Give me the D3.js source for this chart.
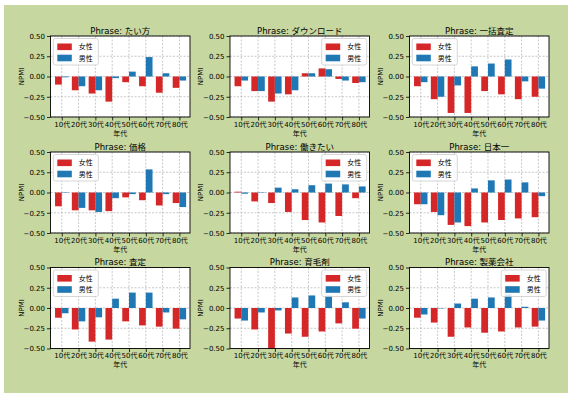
<!DOCTYPE html>
<html><head><meta charset="utf-8">
<script src="https://cdn.jsdelivr.net/npm/d3@7"></script>
<style>
body{margin:0;background:#fff}
svg{display:block}
text{font-family:"DejaVu Sans","Noto Sans CJK JP",sans-serif;fill:#000}
</style>
</head><body>
<svg id="chart" width="568" height="393"></svg>
<script>
// Age groups along the x axis
const categories = ['10代','20代','30代','40代','50代','60代','70代','80代'];
// One panel per phrase
const phrases = ['たい方','ダウンロード','一括査定','価格','働きたい','日本一','査定','育毛剤','製薬会社'];
const seriesNames = ['女性','男性'];
const yTicks = [-0.5, -0.25, 0, 0.25, 0.5];

// NPMI per age group for women, one row per phrase
const femaleNPMI = [
  [-0.10, -0.17, -0.21, -0.31, -0.07, -0.12, -0.20, -0.14],
  [-0.12, -0.18, -0.31, -0.22,  0.04,  0.10, -0.03, -0.08],
  [-0.12, -0.28, -0.45, -0.45, -0.18, -0.22, -0.28, -0.25],
  [-0.17, -0.22, -0.22, -0.23, -0.06, -0.095,-0.16, -0.13],
  [ 0.01, -0.11, -0.13, -0.24, -0.34, -0.37, -0.29, -0.07],
  [-0.145,-0.24, -0.40, -0.415,-0.37, -0.34, -0.32, -0.305],
  [-0.12, -0.265,-0.415,-0.39, -0.165,-0.215,-0.23, -0.255],
  [-0.13, -0.265,-0.51, -0.315,-0.355,-0.29, -0.19, -0.255],
  [-0.12, -0.18, -0.355,-0.24, -0.305,-0.29, -0.24, -0.23]
];
// NPMI per age group for men, one row per phrase
const maleNPMI = [
  [-0.01, -0.12, -0.17, -0.02,  0.06,  0.24,  0.04, -0.05],
  [-0.05, -0.18, -0.21, -0.17,  0.04,  0.09, -0.05, -0.07],
  [-0.07, -0.25, -0.11,  0.125, 0.16,  0.21, -0.06, -0.15],
  [-0.005,-0.19, -0.24, -0.07, -0.02,  0.285,-0.02, -0.18],
  [-0.015,-0.005, 0.06,  0.04,  0.09,  0.11,  0.10,  0.075],
  [-0.145,-0.28, -0.37,  0.05,  0.15,  0.16,  0.125,-0.045],
  [-0.065,-0.165,-0.115, 0.115, 0.19,  0.19, -0.055,-0.14],
  [-0.155,-0.055,-0.03,  0.13,  0.155, 0.155, 0.07, -0.13],
  [-0.08, -0.005, 0.055, 0.115, 0.13,  0.17,  0.015,-0.155]
];
// Where each panel's legend sits
const legendCorner = ['left','right','left','left','right','left','left','right','right'];

const colors = ['#d62728', '#1f77b4'];
const colLeft = [50.5, 230, 409.5];
const rowTop = [36, 152, 267.5];
const plotW = 139.5, plotH = 81;
const barW = 0.4;

const svg = d3.select('#chart');
svg.append('rect').attr('x', 4).attr('y', 5).attr('width', 564).attr('height', 388)
  .attr('fill', '#c6d7a0');

phrases.forEach((phrase, p) => {
  const left = colLeft[p % 3], top = rowTop[Math.floor(p / 3)];
  const x = d3.scaleLinear().domain([-0.67, 7.63]).range([left, left + plotW]);
  const y = d3.scaleLinear().domain([-0.5, 0.5]).range([top + plotH, top]);
  const g = svg.append('g');
  const clipId = 'clip' + p;
  g.append('clipPath').attr('id', clipId).append('rect')
    .attr('x', left).attr('y', top).attr('width', plotW).attr('height', plotH);

  g.append('rect').attr('x', left).attr('y', top).attr('width', plotW).attr('height', plotH)
    .attr('fill', '#fff');

  // grid
  const grid = g.append('g').attr('stroke', '#b0b0b0').attr('stroke-width', 0.7)
    .attr('stroke-dasharray', '2,1.5');
  grid.selectAll('.gx').data(d3.range(categories.length)).join('line')
    .attr('x1', d => x(d)).attr('x2', d => x(d)).attr('y1', top).attr('y2', top + plotH);
  grid.selectAll('.gy').data(yTicks).join('line')
    .attr('x1', left).attr('x2', left + plotW).attr('y1', d => y(d)).attr('y2', d => y(d));

  // bars
  const bars = g.append('g').attr('clip-path', `url(#${clipId})`);
  [femaleNPMI[p], maleNPMI[p]].forEach((vals, s) => {
    bars.selectAll('.b' + s).data(vals).join('rect')
      .attr('x', (d, i) => x(i - barW + s * barW))
      .attr('width', x(barW) - x(0))
      .attr('y', d => y(Math.max(0, d)))
      .attr('height', d => Math.abs(y(d) - y(0)))
      .attr('fill', colors[s]);
  });

  // axes
  const ya = g.append('g').attr('transform', `translate(${left},0)`)
    .call(d3.axisLeft(y).tickValues(yTicks).tickFormat(d3.format('.2f')).tickSize(3.5).tickPadding(2));
  const xa = g.append('g').attr('transform', `translate(0,${top + plotH})`)
    .call(d3.axisBottom(x).tickValues(d3.range(categories.length)).tickFormat(i => categories[i]).tickSize(3.5).tickPadding(1.5));
  [ya, xa].forEach(a => {
    a.select('.domain').remove();
    a.selectAll('text').attr('font-size', 7).attr('fill', '#000')
      .style('font-family', '"DejaVu Sans","Noto Sans CJK JP",sans-serif');
    a.selectAll('line').attr('stroke', '#000').attr('stroke-width', 0.8);
  });

  g.append('rect').attr('x', left).attr('y', top).attr('width', plotW).attr('height', plotH)
    .attr('fill', 'none').attr('stroke', '#000').attr('stroke-width', 0.9);

  // titles
  g.append('text').attr('x', left + plotW / 2).attr('y', top - 2.3)
    .attr('text-anchor', 'middle').attr('font-size', 8.5).text('Phrase: ' + phrase);
  g.append('text').attr('x', left + plotW / 2).attr('y', top + plotH + 18.5)
    .attr('text-anchor', 'middle').attr('font-size', 7).text('年代');
  g.append('text').attr('transform', `translate(${left - 27},${top + plotH / 2}) rotate(-90)`)
    .attr('text-anchor', 'middle').attr('font-size', 7).text('NPMI');

  // legend
  const lw = 45, lh = 26.5;
  const lx = legendCorner[p] === 'left' ? left + 2.8 : left + plotW - 2.8 - lw;
  const ly = top + 2.5;
  const lg = g.append('g');
  lg.append('rect').attr('x', lx).attr('y', ly).attr('width', lw).attr('height', lh)
    .attr('rx', 2).attr('fill', '#fff').attr('fill-opacity', 0.85)
    .attr('stroke', '#cccccc').attr('stroke-width', 0.8);
  seriesNames.forEach((name, s) => {
    const cy = ly + 8.3 + s * 11.2;
    lg.append('rect').attr('x', lx + 4).attr('y', cy - 3.3).attr('width', 14.5).attr('height', 6.6)
      .attr('fill', colors[s]);
    lg.append('text').attr('x', lx + 25.5).attr('y', cy + 2.5).attr('font-size', 7).text(name);
  });
});
</script>
</body></html>
